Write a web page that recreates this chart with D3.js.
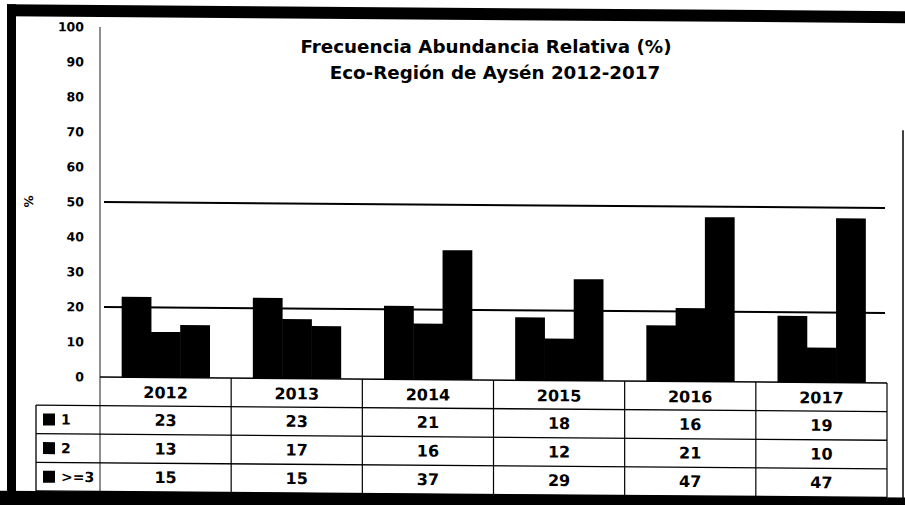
<!DOCTYPE html>
<html>
<head>
<meta charset="utf-8">
<script src="https://cdn.jsdelivr.net/npm/d3@7"></script>
<style>
  body { margin: 0; background: #fff; }
  svg { display: block; font-family: "DejaVu Sans", sans-serif; font-weight: bold; }
</style>
</head>
<body>
<div id="chart"></div>
<script>
// data
const years = ["2012", "2013", "2014", "2015", "2016", "2017"];
const seriesNames = ["1", "2", ">=3"];
const values1 = [23, 23, 21, 18, 16, 19];
const values2 = [13, 17, 16, 12, 21, 10];
const values3 = [15, 15, 37, 29, 47, 47];
const yTicks = [0, 10, 20, 30, 40, 50, 60, 70, 80, 90, 100];
const gridValues = [20, 50];

const seriesValues = [values1, values2, values3];

const W = 905, H = 505;
const plotLeft = 100, plotRight = 887, plotTop = 27, plotBottom = 377;
const rowH = 28.6;

const svg = d3.select("#chart").append("svg")
    .attr("width", W)
    .attr("height", H);

svg.append("rect").attr("width", W).attr("height", H).attr("fill", "#fff");

// the scan is slightly skewed: right side sits a few px lower
const g = svg.append("g")
    .attr("transform", `translate(${plotLeft},0) skewY(0.44) translate(${-plotLeft},0)`);

const x0 = d3.scaleBand()
    .domain(years)
    .range([plotLeft, plotRight])
    .paddingInner(0)
    .paddingOuter(0);

const x1 = d3.scaleBand()
    .domain(seriesNames)
    .range([0, x0.bandwidth()])
    .paddingInner(0)
    .paddingOuter(0.74);

const y = d3.scaleLinear()
    .domain([0, 100])
    .range([plotBottom, plotTop]);

// gridlines (only the ones that survived the scan)
g.selectAll(".grid")
    .data(gridValues)
    .join("line")
    .attr("class", "grid")
    .attr("x1", plotLeft + 4)
    .attr("x2", plotRight - 2)
    .attr("y1", d => y(d))
    .attr("y2", d => y(d))
    .attr("stroke", "#000")
    .attr("stroke-width", 2);

// bars
const groups = g.selectAll(".year")
    .data(years)
    .join("g")
    .attr("class", "year")
    .attr("transform", d => `translate(${x0(d)},0)`);

groups.selectAll("rect")
    .data((d, i) => seriesNames.map((s, j) => ({ s, v: seriesValues[j][i] })))
    .join("rect")
    .attr("x", d => x1(d.s))
    .attr("width", x1.bandwidth() + 0.5)
    .attr("y", d => y(d.v))
    .attr("height", d => y(0) - y(d.v))
    .attr("fill", "#000");

// y axis
const yAxis = g.append("g")
    .attr("transform", `translate(${plotLeft},0)`)
    .call(d3.axisLeft(y).tickValues(yTicks).tickSize(0).tickPadding(16));
yAxis.select(".domain").remove();
yAxis.selectAll("text")
    .style("font-family", "DejaVu Sans")
    .style("font-weight", "bold")
    .style("font-size", "12.5px")
    .attr("fill", "#000");

g.append("line")
    .attr("x1", plotLeft).attr("x2", plotLeft)
    .attr("y1", plotTop).attr("y2", plotBottom + rowH * 4)
    .attr("stroke", "#444")
    .attr("stroke-width", 1.2);

g.append("text")
    .attr("transform", `translate(29,${y(50)}) rotate(-90)`)
    .attr("text-anchor", "middle")
    .attr("dominant-baseline", "central")
    .attr("font-size", 12)
    .text("%");

// data table
const tableLeft = 36;
const rowY = i => plotBottom + rowH * i;

// horizontal lines
g.append("line")
    .attr("x1", plotLeft).attr("x2", plotRight)
    .attr("y1", rowY(0)).attr("y2", rowY(0))
    .attr("stroke", "#000").attr("stroke-width", 1.5);
[1, 2, 3, 4].forEach(i => {
    g.append("line")
        .attr("x1", tableLeft).attr("x2", plotRight)
        .attr("y1", rowY(i)).attr("y2", rowY(i))
        .attr("stroke", "#000").attr("stroke-width", 1.3);
});

// vertical lines
years.forEach(yr => {
    g.append("line")
        .attr("x1", x0(yr) + x0.bandwidth()).attr("x2", x0(yr) + x0.bandwidth())
        .attr("y1", rowY(0)).attr("y2", rowY(4))
        .attr("stroke", "#000").attr("stroke-width", 1.2);
});
g.append("line")
    .attr("x1", tableLeft).attr("x2", tableLeft)
    .attr("y1", rowY(1)).attr("y2", rowY(4))
    .attr("stroke", "#000").attr("stroke-width", 1.3);

// header (years)
g.selectAll(".yearLabel")
    .data(years)
    .join("text")
    .attr("class", "yearLabel")
    .attr("x", d => x0(d) + x0.bandwidth() / 2)
    .attr("y", rowY(0) + rowH / 2 + 1)
    .attr("text-anchor", "middle")
    .attr("dominant-baseline", "central")
    .attr("font-size", 16)
    .text(d => d);

// rows
seriesNames.forEach((s, j) => {
    const cy = rowY(j + 1) + rowH / 2;
    g.append("rect")
        .attr("x", 43).attr("y", cy - 6)
        .attr("width", 12).attr("height", 12)
        .attr("fill", "#000");
    g.append("text")
        .attr("x", 61)
        .attr("y", cy)
        .attr("dominant-baseline", "central")
        .attr("font-size", 14)
        .text(s);
    g.selectAll(".val" + j)
        .data(seriesValues[j])
        .join("text")
        .attr("x", (d, i) => x0(years[i]) + x0.bandwidth() / 2)
        .attr("y", cy)
        .attr("text-anchor", "middle")
        .attr("dominant-baseline", "central")
        .attr("font-size", 16)
        .text(d => d);
});

// frame
g.append("line")
    .attr("x1", 903).attr("x2", 903)
    .attr("y1", 124).attr("y2", 495)
    .attr("stroke", "#000").attr("stroke-width", 1.5);
g.append("rect")
    .attr("x", 0).attr("y", rowY(4))
    .attr("width", W).attr("height", 30)
    .attr("fill", "#000");
g.append("rect")
    .attr("x", 7).attr("y", 5)
    .attr("width", W).attr("height", 12)
    .attr("fill", "#000");
g.append("rect")
    .attr("x", 7).attr("y", 5)
    .attr("width", 9).attr("height", H)
    .attr("fill", "#000");

// title
const title = svg.append("text")
    .attr("text-anchor", "middle")
    .attr("font-size", 18.3);
title.append("tspan").attr("x", 486).attr("y", 53).text("Frecuencia Abundancia Relativa (%)");
title.append("tspan").attr("x", 495).attr("y", 79).text("Eco-Región de Aysén 2012-2017");
</script>
</body>
</html>
